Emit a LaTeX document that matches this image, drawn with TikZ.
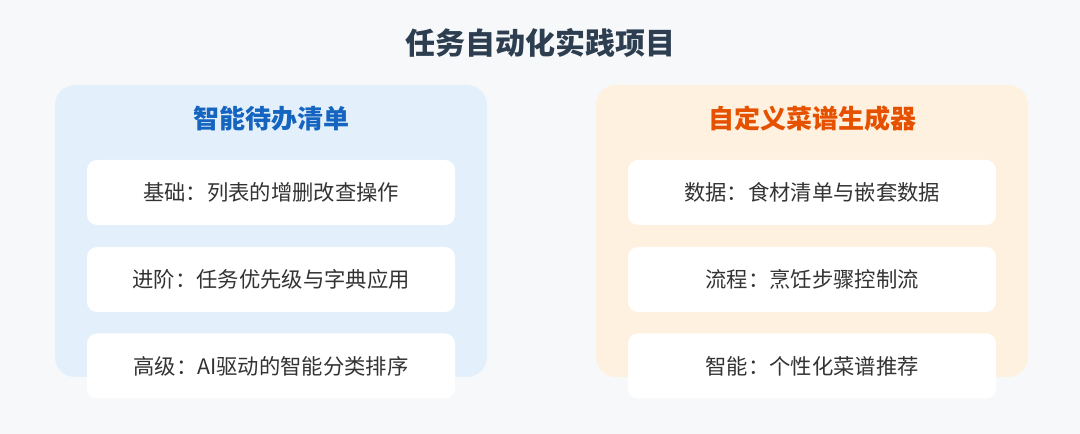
\documentclass[tikz,border=0pt]{standalone}
\usepackage{fontspec}
\setmainfont{Noto Sans CJK SC}
\usepackage{tikz}
\usetikzlibrary{positioning,calc}
\definecolor{pagebg}{HTML}{F7F8FA}
\definecolor{titlegray}{HTML}{2C3E50}
\definecolor{todofill}{HTML}{E3F0FC}
\definecolor{todoblue}{HTML}{1565C0}
\definecolor{recipefill}{HTML}{FFF1DF}
\definecolor{recipeorange}{HTML}{E65100}
\definecolor{itemtext}{HTML}{333333}

\begin{document}
\begin{tikzpicture}[x=0.75pt,y=0.75pt,
    panel/.style={rounded corners=15pt, minimum width=324pt, minimum height=219pt, inner sep=0pt},
    paneltitle/.style={font=\fontsize{19.5}{23}\selectfont\bfseries},
    item/.style={fill=white, rounded corners=7.5pt, minimum width=276pt, minimum height=48.75pt,
        inner sep=0pt, text=itemtext, font=\fontsize{16}{19}\selectfont}]
    % background
    \fill[pagebg] (0,0) rectangle (1080,434);
    \node[text=titlegray, font=\fontsize{22.5}{27}\selectfont\bfseries] (main) at (540,391) {任务自动化实践项目};
    % left panel
    \node[panel, fill=todofill] (todo) at (271,203) {};
    \node[paneltitle, text=todoblue] (todotitle) at (271,315) {智能待办清单};
    \node[item] (todoa) at (271,241.5) {基础：列表的增删改查操作};
    \node[item] (todob) at (271,154.5) {进阶：任务优先级与字典应用};
    \node[item] (todoc) at (271,68) {高级：AI驱动的智能分类排序};
    % right panel
    \node[panel, fill=recipefill] (recipe) at (812,203) {};
    \node[paneltitle, text=recipeorange] (recipetitle) at (812,315) {自定义菜谱生成器};
    \node[item] (recipea) at (812,241.5) {数据：食材清单与嵌套数据};
    \node[item] (recipeb) at (812,154.5) {流程：烹饪步骤控制流};
    \node[item] (recipec) at (812,68) {智能：个性化菜谱推荐};
\end{tikzpicture}
\end{document}
